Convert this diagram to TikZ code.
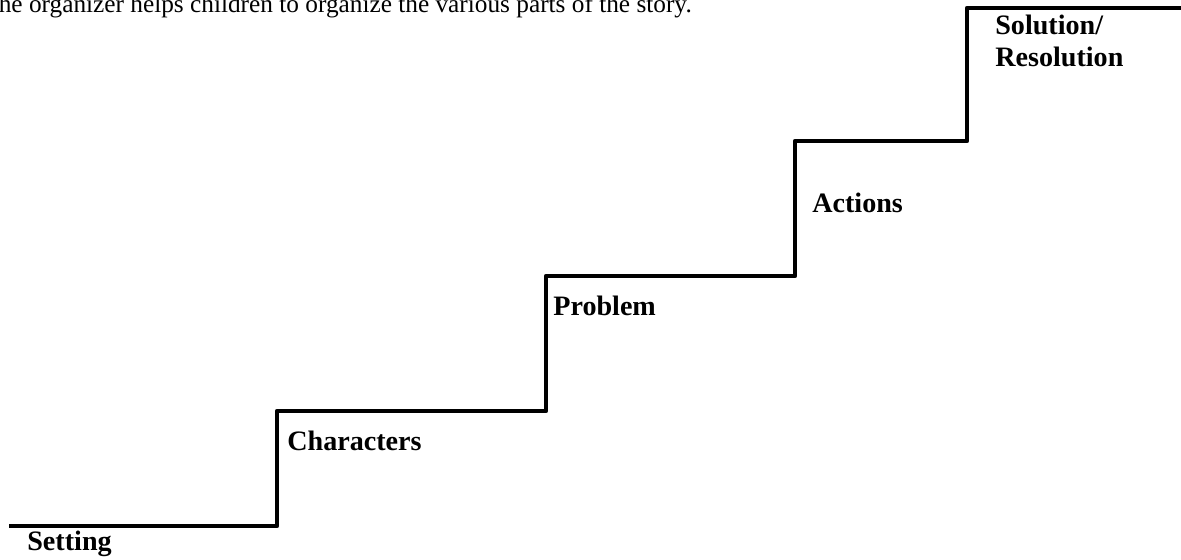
\documentclass[tikz,border=0pt]{standalone}
\usepackage{fontspec}
\setmainfont{Liberation Serif}
\usetikzlibrary{positioning}

\begin{document}
\begin{tikzpicture}[x=0.02cm, y=-0.02cm,
      stair/.style={line width=2.7pt, line join=round},
      steplabel/.style={anchor=base west, inner sep=0pt, font=\bfseries\fontsize{16}{18}\selectfont, align=left},
      intro/.style={anchor=base west, inner sep=0pt, font=\fontsize{14.4}{17}\selectfont}
    ]
    \useasboundingbox (0,0) rectangle (1181,559);
    % caption line, cut off at the top
    \node[intro] (intro) at (-17,12) {The organizer helps children to organize the various parts of the story.};

    % corners of the stairs
    \coordinate (s0) at (9,526);
    \coordinate (s1) at (277,526);
    \coordinate (s2) at (277,411);
    \coordinate (s3) at (546,411);
    \coordinate (s4) at (546,276);
    \coordinate (s5) at (795,276);
    \coordinate (s6) at (795,141);
    \coordinate (s7) at (967,141);
    \coordinate (s8) at (967,8);
    \coordinate (s9) at (1181,8);
    \draw[stair] (s0) -- (s1) -- (s2) -- (s3) -- (s4) -- (s5) -- (s6) -- (s7) -- (s8) -- (s9);

    \node[steplabel] (setting) at (27,550) {Setting};
    \node[steplabel] (characters) at (287,450) {Characters};
    \node[steplabel] (problem) at (553,315) {Problem};
    \node[steplabel] (actions) at (812,212) {Actions};
    \node[steplabel, anchor=north west] (solution) at (995,15) {Solution/\\Resolution};
  \end{tikzpicture}
\end{document}
